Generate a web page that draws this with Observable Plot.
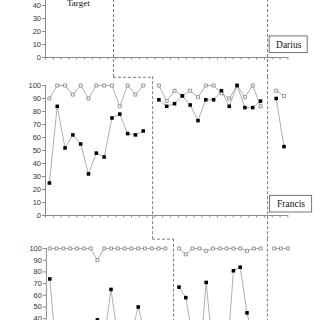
<!DOCTYPE html>
<html><head><meta charset="utf-8">
<script src="https://cdn.jsdelivr.net/npm/d3@7"></script>
<script src="https://cdn.jsdelivr.net/npm/@observablehq/plot@0.6"></script>
<style>
body{margin:0;background:#fff}
#wrap{position:relative;width:320px;height:320px;overflow:hidden;background:#fff}
#wrap svg{position:absolute;left:0;overflow:visible;background:transparent}
</style></head><body><div id="wrap"></div>
<script>
// ---- text ----
const legendLabel = "Target";
const participantNames = ["Darius", "Francis"];
const yTicks = [0, 10, 20, 30, 40, 50, 60, 70, 80, 90, 100];
const yTicksTopVisible = [0, 10, 20, 30, 40];

// ---- Francis (middle panel), values per session; phases start at session index ----
const francisStarts = [0, 14, 29];
const francisOpenBaseline   = [90, 100, 100, 93, 100, 90, 100, 100, 100, 84, 100, 93, 100];
const francisClosedBaseline = [25, 84, 52, 62, 55, 32, 48, 45, 75, 78, 63, 62, 65];
const francisOpenTreatment   = [100, 88, 96, 92, 96, 91, 100, 100, 94, 90, 100, 91, 100, 84];
const francisClosedTreatment = [89, 84, 86, 92, 85, 73, 89, 89, 96, 84, 100, 83, 83, 88];
const francisOpenFollow   = [96, 92];
const francisClosedFollow = [90, 53];

// ---- third participant (bottom panel) ----
const p3Starts = [0, 19, 33];
const p3OpenBaseline   = [100, 100, 100, 100, 100, 100, 100, 90, 100, 100, 100, 100, 100, 100, 100, 100, 100, 100];
const p3ClosedBaseline = [74, 8, 5, 15, 20, 10, 25, 39, 23, 65, 25, 15, 27, 50, 27, 10, 20, 15];
const p3OpenTreatment   = [100, 95, 100, 100, 98, 100, 100, 100, 100, 100, 98, 100, 100];
const p3ClosedTreatment = [67, 58, 25, 0, 71, 10, 20, 0, 81, 84, 45, 21, 15];
const p3OpenFollow   = [100, 100, 100];
const p3ClosedFollow = [20, 25, 15];

// ---- phase-change lines (session units) ----
const dariusPhase = 8.2, francisPhase = 13.2, followPhase12 = 27.9;
const p3Phase = 18.2, followPhase3 = 32.0, p3StepStart = 15.1;

function buildRows(starts, phases) {
  const out = [];
  phases.forEach((ph, i) => {
    ph.open.forEach((v, j) => out.push({k: starts[i] + j, v, s: "open", z: "o" + i}));
    ph.closed.forEach((v, j) => out.push({k: starts[i] + j, v, s: "closed", z: "c" + i}));
  });
  return out;
}
const francisRows = buildRows(francisStarts, [
  {open: francisOpenBaseline, closed: francisClosedBaseline},
  {open: francisOpenTreatment, closed: francisClosedTreatment},
  {open: francisOpenFollow, closed: francisClosedFollow}]);
const p3Rows = buildRows(p3Starts, [
  {open: p3OpenBaseline, closed: p3ClosedBaseline},
  {open: p3OpenTreatment, closed: p3ClosedTreatment},
  {open: p3OpenFollow, closed: p3ClosedFollow}]);

const AX = "#8a8a8a", DASH = "#7a7a7a";
function panel({rows, ticks, xDomain, marginLeft, marginRight, height, top, extra}) {
  const bounds = d3.range(xDomain[0], xDomain[1] + 0.001, 1);
  const marks = [
    Plot.ruleY([0], {stroke: AX, strokeWidth: 1}),
    Plot.ruleX([xDomain[0]], {y1: 0, y2: 100, stroke: AX, strokeWidth: 1}),
    Plot.axisY({ticks, tickSize: 3, tickPadding: 1.5, stroke: AX, fill: "#333", label: null}),
    Plot.axisX({ticks: bounds, tickSize: 2.5, tickFormat: () => "", stroke: AX, label: null}),
    ...extra
  ];
  if (rows) {
    marks.push(
      Plot.line(rows, {x: "k", y: "v", z: "z", stroke: "#9a9a9a", strokeWidth: 0.8}),
      Plot.dot(rows.filter(d => d.s === "open"), {x: "k", y: "v", symbol: "square", r: 1.7, fill: "white", stroke: "#6f6f6f", strokeWidth: 0.7}),
      Plot.dot(rows.filter(d => d.s === "closed"), {x: "k", y: "v", symbol: "square", r: 2.0, fill: "black", stroke: "none"})
    );
  }
  const svg = Plot.plot({
    width: 320, height, marginTop: 10, marginBottom: 10, marginLeft, marginRight,
    x: {domain: xDomain, axis: null, label: null},
    y: {domain: [0, 100], axis: null, label: null},
    style: {fontFamily: "'Liberation Sans', Arial, sans-serif", fontSize: "7.5px", overflow: "visible", background: "transparent"},
    marks
  });
  svg.style.top = top + "px";
  document.getElementById("wrap").appendChild(svg);
}

const dashed = {stroke: DASH, strokeWidth: 1, strokeDasharray: "3,2"};
function nameBox(name, cx, cy, hw, hh) {
  return [
    Plot.rect([{name}], {x1: cx - hw, x2: cx + hw, y1: cy - hh, y2: cy + hh, fill: "white", stroke: "#666", strokeWidth: 0.9}),
    Plot.text([{name}], {x: cx, y: cy, text: "name", fontFamily: "'Liberation Serif', 'Times New Roman', serif", fontSize: 9.5, fill: "#111"})
  ];
}

// top panel (Darius)
panel({
  rows: null, ticks: yTicksTopVisible, xDomain: [-0.5, 30.5], marginLeft: 45, marginRight: 32.6, height: 150, top: -83.3,
  extra: [
    Plot.ruleX([dariusPhase], {y1: 110, y2: -15.2, ...dashed}),
    Plot.ruleY([-15.2], {x1: dariusPhase, x2: francisPhase, ...dashed}),
    Plot.ruleX([followPhase12], {y1: 110, y2: -15.2, ...dashed}),
    Plot.text([legendLabel], {x: 3.7, y: 41.5, text: d => d, fontFamily: "'Liberation Serif', 'Times New Roman', serif", fontSize: 9, fill: "#111"}),
    ...nameBox(participantNames[0], 30.6, 9.8, 2.43, 6.4)
  ]
});

// middle panel (Francis)
panel({
  rows: francisRows, ticks: yTicks, xDomain: [-0.5, 30.5], marginLeft: 45, marginRight: 32.6, height: 150, top: 75,
  extra: [
    Plot.ruleX([francisPhase], {y1: 106.8, y2: -18.2, ...dashed}),
    Plot.ruleX([followPhase12], {y1: 106.8, y2: -18.2, ...dashed}),
    ...nameBox(participantNames[1], 30.9, 8.7, 2.7, 6.4)
  ]
});

// bottom panel
panel({
  rows: p3Rows, ticks: yTicks, xDomain: [-0.5, 35.5], marginLeft: 45.9, marginRight: 29.3, height: 137, top: 238.3,
  extra: [
    Plot.ruleY([108], {x1: p3StepStart, x2: p3Phase, ...dashed}),
    Plot.ruleX([p3Phase], {y1: 108, y2: -20, ...dashed}),
    Plot.ruleX([followPhase3], {y1: 108, y2: -20, ...dashed})
  ]
});
</script></body></html>
